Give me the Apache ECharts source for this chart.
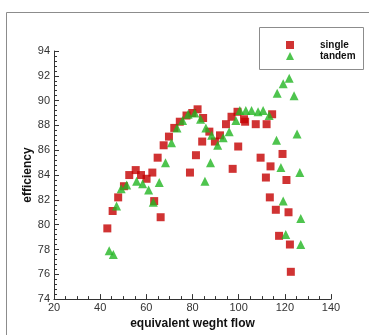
<!DOCTYPE html>
<html>
<head>
<meta charset="utf-8">
<script src="https://cdn.jsdelivr.net/npm/echarts@6/dist/echarts.min.js"></script>
<style>
  html, body { margin: 0; padding: 0; background: #fff; }
  #chart { width: 369px; height: 335px; }
</style>
</head>
<body>
<div id="chart"></div>
<script>
// 单级 single: [流量, 效率]
const singleData = [
  [43.1, 79.7], [45.4, 81.1], [47.8, 82.2], [50.3, 83.1], [52.6, 84.0],
  [55.4, 84.4], [57.7, 84.0], [60.1, 83.7], [62.6, 84.2], [63.4, 81.9],
  [64.9, 85.4], [66.2, 80.6], [67.5, 86.4], [69.8, 87.1], [72.1, 87.8],
  [74.5, 88.3], [77.4, 88.8], [79.9, 89.0], [82.2, 89.3], [84.6, 88.6],
  [84.2, 86.7], [81.5, 85.6], [78.9, 84.2], [87.3, 87.5], [89.7, 86.7],
  [91.9, 87.2], [94.5, 88.1], [97.4, 84.5], [99.8, 86.3], [96.9, 88.7],
  [99.5, 89.1], [102.3, 88.5], [102.8, 88.3], [107.4, 88.1], [112.1, 88.1],
  [114.5, 88.9], [109.5, 85.4], [113.8, 84.7], [111.8, 83.8], [119.0, 85.7],
  [120.7, 83.6], [113.5, 82.2], [116.1, 81.2], [121.6, 81.0], [117.5, 79.1],
  [122.2, 78.4], [122.6, 76.2]
]
// 串列 tandem
const tandemData = [
  [43.9, 77.9], [45.7, 77.6], [47.1, 81.5], [49.1, 82.9], [51.5, 83.2],
  [55.8, 83.5], [58.4, 83.3], [61.0, 82.8], [63.0, 81.8], [65.6, 83.4],
  [68.3, 85.0], [70.9, 86.6], [73.3, 87.8], [75.7, 88.4], [78.1, 88.9],
  [81.0, 89.0], [83.5, 88.5], [85.8, 87.8], [88.3, 87.2], [90.9, 86.4],
  [93.3, 87.0], [95.9, 87.5], [98.8, 88.4], [100.5, 89.2], [103.1, 89.2],
  [105.6, 89.2], [108.4, 89.1], [110.6, 89.2], [113.2, 88.8], [87.8, 85.0],
  [85.4, 83.5], [116.4, 86.8], [116.7, 90.6], [118.3, 84.6], [121.9, 91.8],
  [119.3, 91.35], [124.0, 90.4], [125.3, 87.3], [126.5, 84.2], [119.3, 81.9],
  [126.9, 80.5], [120.4, 79.2], [126.9, 78.4]
]
const seriesNames = ['single', 'tandem']
const xTicks = { min: 20, max: 140, step: 20 }
const yTicks = { min: 74, max: 94, step: 2 }

const chart = echarts.init(document.getElementById('chart'))

const labelStyle = {
  color: '#333',
  fontSize: 11,
  fontFamily: 'Liberation Sans, Arial, sans-serif'
}
const nameStyle = {
  color: '#111',
  fontSize: 12,
  fontWeight: 'bold',
  fontFamily: 'Liberation Sans, Arial, sans-serif'
}

const option = {
  animation: false,
  backgroundColor: '#fff',
  graphic: [
    // 外框
    {
      type: 'rect',
      shape: { x: 6.5, y: 12.5, width: 420, height: 400 },
      style: { fill: 'none', stroke: '#8c8c8c', lineWidth: 1 },
      silent: true
    },
    // 图例边框
    {
      type: 'rect',
      shape: { x: 259.5, y: 27.5, width: 104, height: 42 },
      style: { fill: '#fff', stroke: '#8c8c8c', lineWidth: 1 },
      silent: true
    }
  ],
  legend: {
    orient: 'vertical',
    left: 286,
    top: 40,
    padding: 0,
    itemGap: 1,
    itemWidth: 8,
    itemHeight: 8,
    data: [
      { name: seriesNames[0], icon: 'rect' },
      { name: seriesNames[1], icon: 'triangle' }
    ],
    textStyle: {
      color: '#111',
      fontSize: 10,
      fontWeight: 'bold',
      lineHeight: 10,
      padding: [0, 0, 0, 21],
      fontFamily: 'Liberation Sans, Arial, sans-serif'
    }
  },
  grid: {
    left: 54,
    top: 51,
    right: 38,
    bottom: 32
  },
  xAxis: {
    type: 'value',
    min: xTicks.min,
    max: xTicks.max,
    interval: xTicks.step,
    name: 'equivalent weght flow',
    nameLocation: 'middle',
    nameGap: 14,
    nameTextStyle: nameStyle,
    axisLine: { lineStyle: { color: '#333', width: 1 } },
    axisTick: { inside: true, length: 5, lineStyle: { color: '#333' } },
    minorTick: { show: true, splitNumber: 4, length: 3, lineStyle: { color: '#333' } },
    splitLine: { show: false },
    axisLabel: Object.assign({ margin: 3 }, labelStyle)
  },
  yAxis: {
    type: 'value',
    min: yTicks.min,
    max: yTicks.max,
    interval: yTicks.step,
    name: 'efficiency',
    nameLocation: 'middle',
    nameGap: 20,
    nameMoveOverlap: false,
    nameTextStyle: nameStyle,
    axisLine: { show: true, lineStyle: { color: '#333', width: 1 } },
    axisTick: { show: true, inside: true, length: 5, lineStyle: { color: '#333' } },
    minorTick: { show: true, splitNumber: 5, length: 3, lineStyle: { color: '#333' } },
    splitLine: { show: false },
    axisLabel: Object.assign({ margin: 4 }, labelStyle)
  },
  series: [
    {
      name: seriesNames[0],
      type: 'scatter',
      symbol: 'rect',
      symbolSize: 8,
      itemStyle: { color: '#c40000' },
      data: singleData
    },
    {
      name: seriesNames[1],
      type: 'scatter',
      symbol: 'triangle',
      symbolSize: 9,
      itemStyle: { color: '#22b522' },
      data: tandemData
    }
  ]
}

chart.setOption(option)
</script>
</body>
</html>
